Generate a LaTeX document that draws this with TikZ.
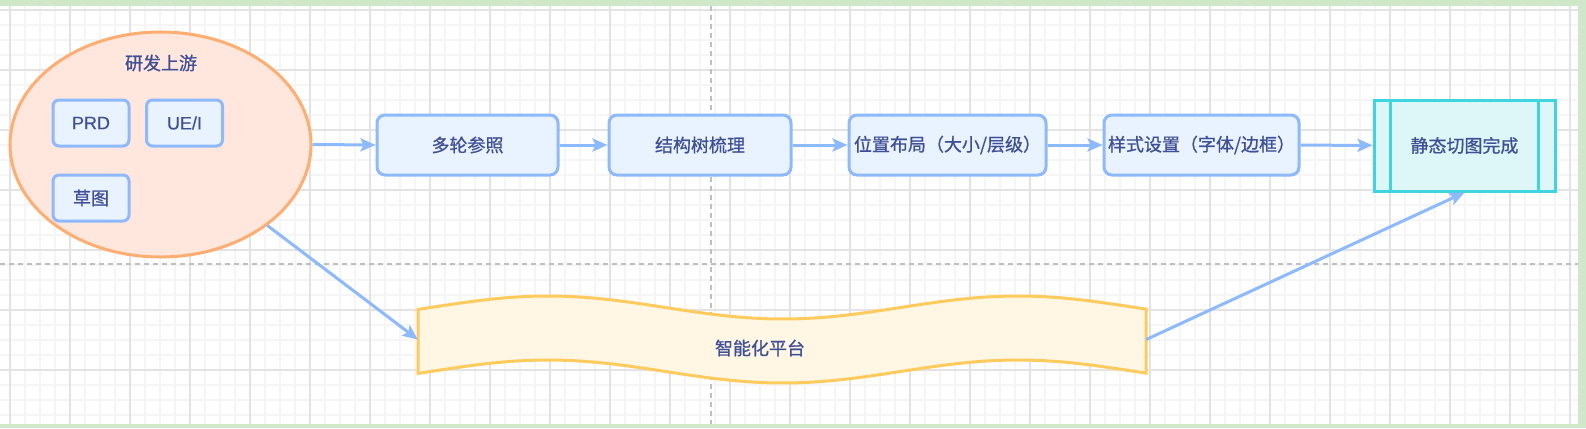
\documentclass[tikz,border=0pt]{standalone}
\usepackage{fontspec}
\newfontfamily\cjkfont[FakeBold=0.8]{Noto Sans CJK SC}
\newfontfamily\latinfont[FakeBold=0.4]{Liberation Sans}
\usetikzlibrary{arrows.meta, positioning, shapes.geometric}

\definecolor{framegreen}{HTML}{CFE8CA}
\definecolor{gridminor}{HTML}{F5F5F5}
\definecolor{gridmajor}{HTML}{E3E3E3}
\definecolor{txtblue}{HTML}{3F4F95}
\definecolor{lineblue}{HTML}{8DB9FF}
\definecolor{boxblue}{HTML}{E9F2FF}
\definecolor{srcfill}{HTML}{FFE7DD}
\definecolor{srcline}{HTML}{FFAD70}
\definecolor{tapefill}{HTML}{FFF7E4}
\definecolor{tapeline}{HTML}{FFCB5C}
\definecolor{donefill}{HTML}{DDF6F7}
\definecolor{doneline}{HTML}{3DD5E0}

\begin{document}
\begin{tikzpicture}[
    x=1pt, y=-1pt,
    >={Stealth[length=15pt, width=13pt, inset=3pt]},
    font=\cjkfont\fontsize{18}{20}\selectfont,
    flow/.style={->, draw=lineblue, line width=3pt},
    stepbox/.style={draw=lineblue, fill=boxblue, line width=3pt, rounded corners=8pt,
        minimum height=60pt, text=txtblue, inner sep=0pt},
    smallbox/.style={draw=lineblue, fill=boxblue, line width=3pt, rounded corners=6pt,
        minimum width=76pt, minimum height=46pt, text=txtblue, inner sep=0pt},
    donebox/.style={draw=doneline, fill=donefill, line width=3pt,
        minimum width=181pt, minimum height=91pt, text=txtblue, inner sep=0pt},
    label_text/.style={text=txtblue}
]
    \useasboundingbox (0,0) rectangle (1586,428);

    % === 0. Canvas ===
    \fill[framegreen] (0,0) rectangle (1586,428);
    \fill[white] (0,6) rectangle (1578,424);
    \foreach \gx in {10,25,...,1570} \draw[gridminor, line width=1.5pt] (\gx,6) -- (\gx,424);
    \foreach \gy in {10,25,...,415} \draw[gridminor, line width=1.5pt] (0,\gy) -- (1578,\gy);
    \foreach \gx in {10,70,...,1570} \draw[gridmajor, line width=1.2pt] (\gx,6) -- (\gx,424);
    \foreach \gy in {10,70,...,370} \draw[gridmajor, line width=1.2pt] (0,\gy) -- (1578,\gy);
    % page guides
    \draw[gray!50, line width=1.2pt, dash pattern=on 5pt off 4pt] (711,6) -- (711,424);
    \draw[gray!50, line width=1.2pt, dash pattern=on 5pt off 4pt] (0,264) -- (1578,264);

    % === 1. Upstream ===
    \node[ellipse, draw=srcline, fill=srcfill, line width=3pt,
        minimum width=301pt, minimum height=225pt] (src) at (160.5,144.5) {};
    \node[label_text] (srctitle) at (161,63) {研发上游};
    \node[smallbox, font=\latinfont\fontsize{18}{20}\selectfont] (prd) at (91,123) {PRD};
    \node[smallbox, font=\latinfont\fontsize{18}{20}\selectfont] (uei) at (184.5,123) {UE/I};
    \node[smallbox] (sketch) at (91,198) {草图};

    % === 2. Main flow ===
    \node[stepbox, minimum width=181pt] (refer) at (467.5,145) {多轮参照};
    \node[stepbox, minimum width=182pt] (tree) at (700,145) {结构树梳理};
    \node[stepbox, minimum width=197pt] (layout) at (947.5,145) {位置布局（大小/层级）};
    \node[stepbox, minimum width=195pt] (style) at (1201.5,145) {样式设置（字体/边框）};
    \node[donebox] (done) at (1464.5,145.5) {静态切图完成};
    \draw[doneline, line width=3pt] ([xshift=18pt]done.north west) -- ([xshift=18pt]done.south west);
    \draw[doneline, line width=3pt] ([xshift=-18pt]done.north east) -- ([xshift=-18pt]done.south east);

    % === 3. Platform tape ===
    \node[minimum width=728pt, minimum height=65pt, inner sep=0pt] (plat) at (782,339.5) {};
    \filldraw[fill=tapefill, draw=tapeline, line width=3pt]
        plot[domain=418:1146, samples=80] (\x, {307.5-11.5*cos((\x-548)*0.76596)})
        -- plot[domain=1146:418, samples=80] (\x, {371.5-11.5*cos((\x-548)*0.76596)})
        -- cycle;
    \node[label_text] (platlbl) at (760,348) {智能化平台};

    % Connectors
    \draw[flow] (src.east) -- (refer.west);
    \draw[flow] (refer) -- (tree);
    \draw[flow] (tree) -- (layout);
    \draw[flow] (layout) -- (style);
    \draw[flow] (style) -- (done);
    \draw[flow] (src) -- (plat.west);
    \draw[flow] (plat.east) -- (done.south);

\end{tikzpicture}
\end{document}
